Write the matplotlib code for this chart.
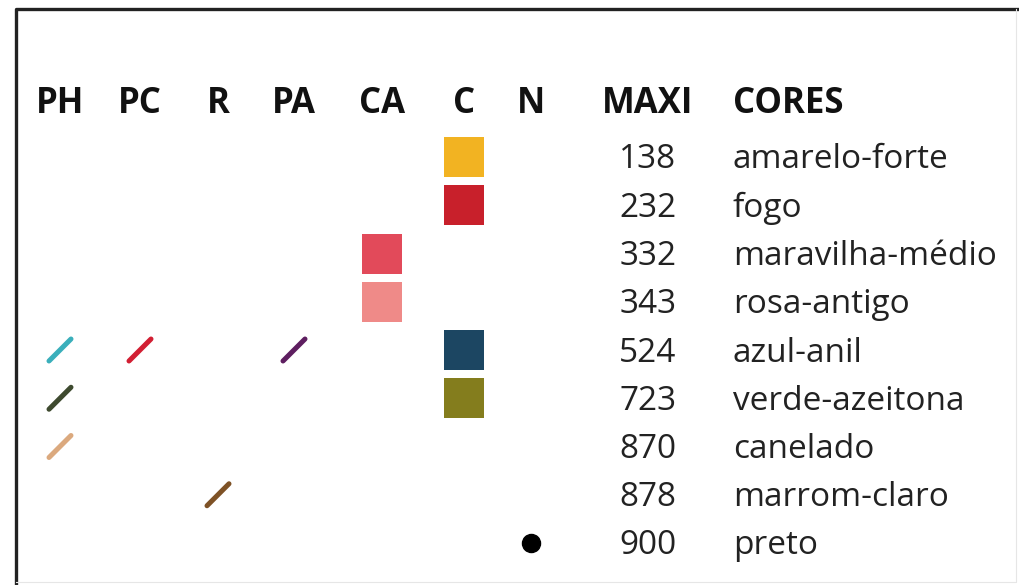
import matplotlib
matplotlib.use("Agg")
import matplotlib.pyplot as plt
from matplotlib.patches import Rectangle

# ---- data ----
columns = ["PH", "PC", "R", "PA", "CA", "C", "N"]
codes = ["138", "232", "332", "343", "524", "723", "870", "878", "900"]
names = ["amarelo-forte", "fogo", "maravilha-médio", "rosa-antigo", "azul-anil",
         "verde-azeitona", "canelado", "marrom-claro", "preto"]
# (row, column, kind, colour)
marks = [
    (0, "C", "square", "#F2B322"),
    (1, "C", "square", "#C8202B"),
    (2, "CA", "square", "#E24A5A"),
    (3, "CA", "square", "#EF8A88"),
    (4, "PH", "slash", "#3AAFBB"),
    (4, "PC", "slash", "#D21F33"),
    (4, "PA", "slash", "#5E1E60"),
    (4, "C", "square", "#1C4662"),
    (5, "PH", "slash", "#3E4A2F"),
    (5, "C", "square", "#847D1D"),
    (6, "PH", "slash", "#DBA97E"),
    (7, "R", "slash", "#7E5226"),
    (8, "N", "dot", "#000000"),
]

# ---- layout ----
W, H = 1019, 585
col_x = {"PH": 60, "PC": 140, "R": 218, "PA": 294, "CA": 382, "C": 464, "N": 531}
maxi_x, cores_x = 648, 733
header_base = 113
row0_y, row_step = 157, 48.25

plt.rcParams['font.family'] = ['Open Sans', 'DejaVu Sans']
fig = plt.figure(figsize=(W / 100, H / 100), dpi=100)
ax = fig.add_axes([0, 0, 1, 1])
ax.set_xlim(0, W)
ax.set_ylim(H, 0)
ax.axis("off")

# frame
ax.plot([16, 16, W], [H, 9, 9], color="#222222", lw=2.4, solid_capstyle="butt")
ax.plot([W - 3, W - 3, 16], [9, H - 3, H - 3], color="#e6e6e6", lw=0.8)

# headers
hdr = dict(va="baseline", fontsize=25, fontweight="bold", color="#111111")
for c in columns:
    ax.text(col_x[c], header_base, c, ha="center", **hdr)
ax.text(maxi_x, header_base, "MAXI", ha="center", **hdr)
ax.text(cores_x, header_base, "CORES", ha="left", **hdr)

def row_y(i):
    return row0_y + i * row_step

body = dict(va="baseline", fontsize=24, color="#222222")
for i, (code, name) in enumerate(zip(codes, names)):
    y = row_y(i) + 11.5
    ax.text(maxi_x, y, code, ha="center", **body)
    ax.text(cores_x, y, name, ha="left", **body)

sq = 40
for r, c, kind, colr in marks:
    x, y = col_x[c], row_y(r)
    if kind == "square":
        ax.add_patch(Rectangle((x - sq / 2, y - sq / 2), sq, sq, color=colr, lw=0))
    elif kind == "slash":
        ax.plot([x - 11, x + 11], [y + 11, y - 11], color=colr, lw=3.6,
                solid_capstyle="round")
    else:
        ax.plot([x], [y], "o", color=colr, markersize=13)

fig.savefig("out.png", dpi=100)
